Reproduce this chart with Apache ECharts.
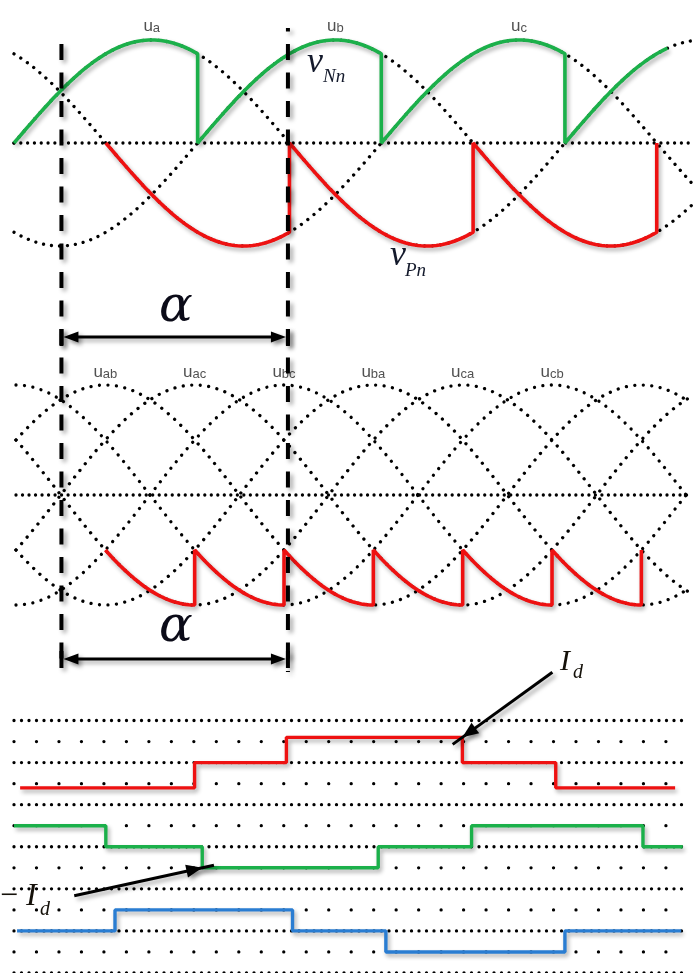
<!DOCTYPE html>
<html>
<head>
<meta charset="utf-8">
<script src="https://cdn.jsdelivr.net/npm/echarts@6/dist/echarts.min.js"></script>
<style>
  html, body { margin: 0; padding: 0; background: #ffffff; }
  #main { width: 698px; height: 973px; }
</style>
</head>
<body>
<div id="main"></div>
<script>
// ---- phase voltages (upper panel), angles in electrical degrees ----
const phaseNames = ['a', 'b', 'c'];
const phaseShiftDeg = [0, 120, 240];
const phaseRangeDeg = [0, 445];

// v_Nn : conducting phase between successive switching angles
const nnSwitchDeg = [0, 120, 240, 360, 427];
const nnPhase = ['a', 'b', 'c', 'a'];

// v_Pn : conducting phase between successive switching angles
const pnSwitchDeg = [60, 180, 300, 420];
const pnPhase = ['c', 'a', 'b'];

// ---- line voltages (middle panel) ----
const lineNames = ['ab', 'ac', 'bc', 'ba', 'ca', 'cb'];
const linePeakDeg = [60, 120, 180, 240, 300, 360];
const lineRangeDeg = [0, 452];

// rectified output: starts at outStartDeg, each piece ends at a line-voltage trough
const outStartDeg = 60;
const outTroughDeg = [120, 180, 240, 300, 360, 420];

// firing delay window
const alphaDeg = [31, 179];

// ---- phase currents (lower panel), levels in units of I_d ----
const iRedDeg = [4, 118, 178, 293, 354, 432];
const iRedLevel = [-1, 0, 1, 0, -1];
const iGreenDeg = [0, 60, 123, 238, 299, 411, 437];
const iGreenLevel = [1, 0, -1, 0, 1, 0];
const iBlueDeg = [2, 66, 182, 243, 360, 436];
const iBlueLevel = [0, 1, 0, -1, 0];
const gridRowCount = 13;
const gridRowRangeDeg = [0, 440.5];

// ---------------------------------------------------------------
const RED = '#ee1111', GREEN = '#1bb04a', BLUE = '#2a7dd2', DOT = '#000000';
const rad = d => d * Math.PI / 180;
const phaseIdx = p => phaseNames.indexOf(p);
const phaseVal = (p, th) => Math.sin(rad(th - phaseShiftDeg[phaseIdx(p)]));

function sampleRange(a, b, f) {
  const out = [];
  const n = Math.max(1, Math.ceil((b - a) / 1));
  for (let i = 0; i <= n; i++) {
    const th = a + (b - a) * i / n;
    out.push([th, f(th)]);
  }
  return out;
}

const shadow = { shadowColor: 'rgba(0,0,0,0.32)', shadowBlur: 4, shadowOffsetX: 2, shadowOffsetY: 3 };
function dotted(gap) {
  return { color: DOT, width: 3.3, type: [0.01, gap], cap: 'round', opacity: 1 };
}
function lineSeries(data, gi, style, z) {
  return {
    type: 'line', xAxisIndex: gi, yAxisIndex: gi, data: data,
    showSymbol: false, symbol: 'none', clip: false, silent: true,
    lineStyle: style, z: z || 2, animation: false
  };
}

const series = [];

// upper panel: zero line and phase voltages
series.push(lineSeries([[phaseRangeDeg[0], 0], [phaseRangeDeg[1], 0]], 0, dotted(6.8)));
phaseNames.forEach(p => {
  series.push(lineSeries(sampleRange(phaseRangeDeg[0], phaseRangeDeg[1], th => phaseVal(p, th)), 0, dotted(8)));
});

// v_Nn
const nnData = [];
nnPhase.forEach((p, k) => {
  sampleRange(nnSwitchDeg[k], nnSwitchDeg[k + 1], th => phaseVal(p, th)).forEach(pt => nnData.push(pt));
});
series.push(lineSeries(nnData, 0, Object.assign({ color: GREEN, width: 3.6 }, shadow), 5));

// v_Pn
const pnData = [];
pnPhase.forEach((p, k) => {
  sampleRange(pnSwitchDeg[k], pnSwitchDeg[k + 1], th => phaseVal(p, th)).forEach(pt => pnData.push(pt));
});
const pnLast = pnSwitchDeg[pnSwitchDeg.length - 1];
const pnNext = phaseNames[(phaseIdx(pnPhase[pnPhase.length - 1]) + 1) % 3];
pnData.push([pnLast, phaseVal(pnNext, pnLast)]);
series.push(lineSeries(pnData, 0, Object.assign({ color: RED, width: 3.6 }, shadow), 5));

// phase labels
const richLabel = {
  u: { fontSize: 17, fontFamily: 'Liberation Sans', color: '#262626', lineHeight: 17, verticalAlign: 'top' },
  s: { fontSize: 13, fontFamily: 'Liberation Sans', color: '#262626', lineHeight: 13, padding: [8, 0, 0, 0], verticalAlign: 'bottom' }
};
series.push({
  type: 'scatter', xAxisIndex: 0, yAxisIndex: 0, symbolSize: 1, silent: true, animation: false,
  itemStyle: { color: 'rgba(0,0,0,0)' },
  data: phaseNames.map((p, i) => ({ name: p, value: [phaseShiftDeg[i] + 90, 1] })),
  label: { show: true, position: 'top', distance: 5, formatter: q => '{u|u}{s|' + q.name + '}', rich: richLabel }
});

// middle panel: zero line and line voltages (normalised to their peak)
series.push(lineSeries([[lineRangeDeg[0], 0], [lineRangeDeg[1], 0]], 1, dotted(6.5)));
linePeakDeg.forEach(pk => {
  series.push(lineSeries(sampleRange(lineRangeDeg[0], lineRangeDeg[1], th => Math.cos(rad(th - pk))), 1, dotted(8.5)));
});
// rectified output: each piece follows the line voltage whose negative peak is at its end
const outData = [];
outTroughDeg.forEach((tr, k) => {
  const a = k === 0 ? outStartDeg : outTroughDeg[k - 1];
  sampleRange(a, tr, th => -Math.cos(rad(th - tr))).forEach(pt => outData.push(pt));
});
const outLast = outTroughDeg[outTroughDeg.length - 1];
outData.push([outLast, -Math.cos(rad(outStartDeg - outTroughDeg[0]))]);
series.push(lineSeries(outData, 1, Object.assign({ color: RED, width: 3.6 }, shadow), 5));

series.push({
  type: 'scatter', xAxisIndex: 1, yAxisIndex: 1, symbolSize: 1, silent: true, animation: false,
  itemStyle: { color: 'rgba(0,0,0,0)' },
  data: lineNames.map((n, i) => ({ name: n, value: [linePeakDeg[i], 1] })),
  label: { show: true, position: 'top', distance: 4, formatter: q => '{u|u}{s|' + q.name + '}', rich: richLabel }
});

// lower panel: dotted reference rows (dense on even rows, sparse on odd rows)
for (let r = 0; r < gridRowCount; r++) {
  const span = (gridRowRangeDeg[1] - gridRowRangeDeg[0]) * 1.5303;
  const gap = r % 2 === 0 ? span / 90 : span / 30;
  series.push(lineSeries([[gridRowRangeDeg[0], r], [gridRowRangeDeg[1], r]], 2, dotted(gap)));
}
// current traces: level in I_d -> row position of the trace
function stepData(deg, level, baseRow, rowsPerId) {
  const d = level.map((lv, i) => [deg[i], baseRow - rowsPerId * lv]);
  d.push([deg[deg.length - 1], baseRow - rowsPerId * level[level.length - 1]]);
  return d;
}
const traces = [
  { deg: iRedDeg, level: iRedLevel, color: RED, base: 2, amp: 1.2 },
  { deg: iGreenDeg, level: iGreenLevel, color: GREEN, base: 6, amp: 1.0 },
  { deg: iBlueDeg, level: iBlueLevel, color: BLUE, base: 10, amp: 1.0 }
];
traces.forEach(t => {
  const s = lineSeries(stepData(t.deg, t.level, t.base, t.amp), 2, Object.assign({ color: t.color, width: 3.4 }, shadow), 5);
  s.step = 'end';
  series.push(s);
});

const option = {
  backgroundColor: '#ffffff',
  animation: false,
  grid: [
    { left: 14, top: 40, width: 681, height: 206 },
    { left: 16, top: 385, width: 673, height: 220 },
    { left: 14, top: 720.5, width: 681, height: 254.4 }
  ],
  xAxis: [
    { gridIndex: 0, type: 'value', min: phaseRangeDeg[0], max: 445, show: false },
    { gridIndex: 1, type: 'value', min: lineRangeDeg[0], max: 452, show: false },
    { gridIndex: 2, type: 'value', min: 0, max: 445, show: false }
  ],
  yAxis: [
    { gridIndex: 0, type: 'value', min: -1, max: 1, show: false },
    { gridIndex: 1, type: 'value', min: -1, max: 1, show: false },
    { gridIndex: 2, type: 'value', min: 0, max: gridRowCount - 1, inverse: true, show: false }
  ],
  series: series
};

const chart = echarts.init(document.getElementById('main'), null, { renderer: 'canvas', width: 698, height: 973 });
chart.setOption(option);

// ---- annotations: firing window, alpha, signal names, I_d pointers ----
const xL = chart.convertToPixel({ gridIndex: 0 }, [alphaDeg[0], 0])[0];
const xR = chart.convertToPixel({ gridIndex: 0 }, [alphaDeg[1], 0])[0];
const shadowStyle = { shadowColor: 'rgba(0,0,0,0.35)', shadowBlur: 4, shadowOffsetX: 3, shadowOffsetY: 3 };
const g = [];

function vDashed(x, y1, y2, off) {
  g.push({ type: 'line', z: 20, silent: true,
    shape: { x1: x, y1: y1, x2: x, y2: y2 },
    style: Object.assign({ stroke: '#000', lineWidth: 4, lineDash: [16, 12.5], lineDashOffset: off || 0 }, shadowStyle) });
}
vDashed(xL, 44, 671, 0);
vDashed(xR, 28, 672, 12.5);

function arrowHead(tx, ty, dx, dy, len, half) {
  const l = Math.hypot(dx, dy), ux = dx / l, uy = dy / l;
  const bx = tx - ux * len, by = ty - uy * len;
  return { type: 'polygon', z: 21, silent: true,
    shape: { points: [[tx, ty], [bx - uy * half, by + ux * half], [bx + uy * half, by - ux * half]] },
    style: Object.assign({ fill: '#000' }, shadowStyle) };
}
function spanArrow(y) {
  g.push({ type: 'line', z: 21, silent: true, shape: { x1: xL + 8, y1: y, x2: xR - 8, y2: y },
    style: Object.assign({ stroke: '#000', lineWidth: 3 }, shadowStyle) });
  g.push(arrowHead(xL + 2, y, -1, 0, 15, 5.5));
  g.push(arrowHead(xR - 2, y, 1, 0, 15, 5.5));
  [xL, xR].forEach(x => g.push({ type: 'rect', z: 21, silent: true,
    shape: { x: x - 2, y: y - 8, width: 4, height: 17 }, style: Object.assign({ fill: '#000' }, shadowStyle) }));
}
spanArrow(337);
spanArrow(659);

function txt(s, x, y, font, color) {
  g.push({ type: 'text', z: 30, silent: true, x: x, y: y,
    style: { text: s, font: font, fill: color || '#111', align: 'left', verticalAlign: 'middle' } });
}
const SERIF = '"DejaVu Serif", "Liberation Serif", serif';
const SERIF2 = '"Liberation Serif", "DejaVu Serif", serif';
txt('\u03B1', 159, 308, 'italic 50px ' + SERIF, '#0b0b18');
txt('\u03B1', 159, 628, 'italic 50px ' + SERIF, '#0b0b18');
txt('v', 307, 63, 'italic 36px ' + SERIF2, '#141a2c');
txt('Nn', 323, 77, 'italic 19px ' + SERIF2, '#141a2c');
txt('v', 390, 256, 'italic 36px ' + SERIF2, '#141a2c');
txt('Pn', 405, 271, 'italic 19px ' + SERIF2, '#141a2c');
txt('I', 560, 662, 'italic 30px ' + SERIF2, '#15110a');
txt('d', 573, 673, 'italic 20px ' + SERIF2, '#15110a');
txt('\u2212', 0, 897, '32px ' + SERIF2, '#15110a');
txt('I', 26, 897, 'italic 32px ' + SERIF2, '#15110a');
txt('d', 40, 910, 'italic 20px ' + SERIF2, '#15110a');

function pointer(tip, dx, dy) {
  const x0 = tip[0] + dx, y0 = tip[1] + dy;
  const l = Math.hypot(dx, dy);
  g.push({ type: 'line', z: 21, silent: true,
    shape: { x1: x0, y1: y0, x2: tip[0] - dx / l * 12, y2: tip[1] - dy / l * 12 },
    style: Object.assign({ stroke: '#000', lineWidth: 3 }, shadowStyle) });
  g.push(arrowHead(tip[0], tip[1], -dx, -dy, 16, 6.5));
}
// I_d: corner where the red current leaves +I_d
pointer(chart.convertToPixel({ gridIndex: 2 }, [iRedDeg[3], 2 - 1.2 * iRedLevel[2]]), 90, -65);
// -I_d: corner where the green current reaches -I_d
pointer(chart.convertToPixel({ gridIndex: 2 }, [iGreenDeg[2], 6 - iGreenLevel[2]]), -128, 28);

chart.setOption({ graphic: g });
</script>
</body>
</html>
